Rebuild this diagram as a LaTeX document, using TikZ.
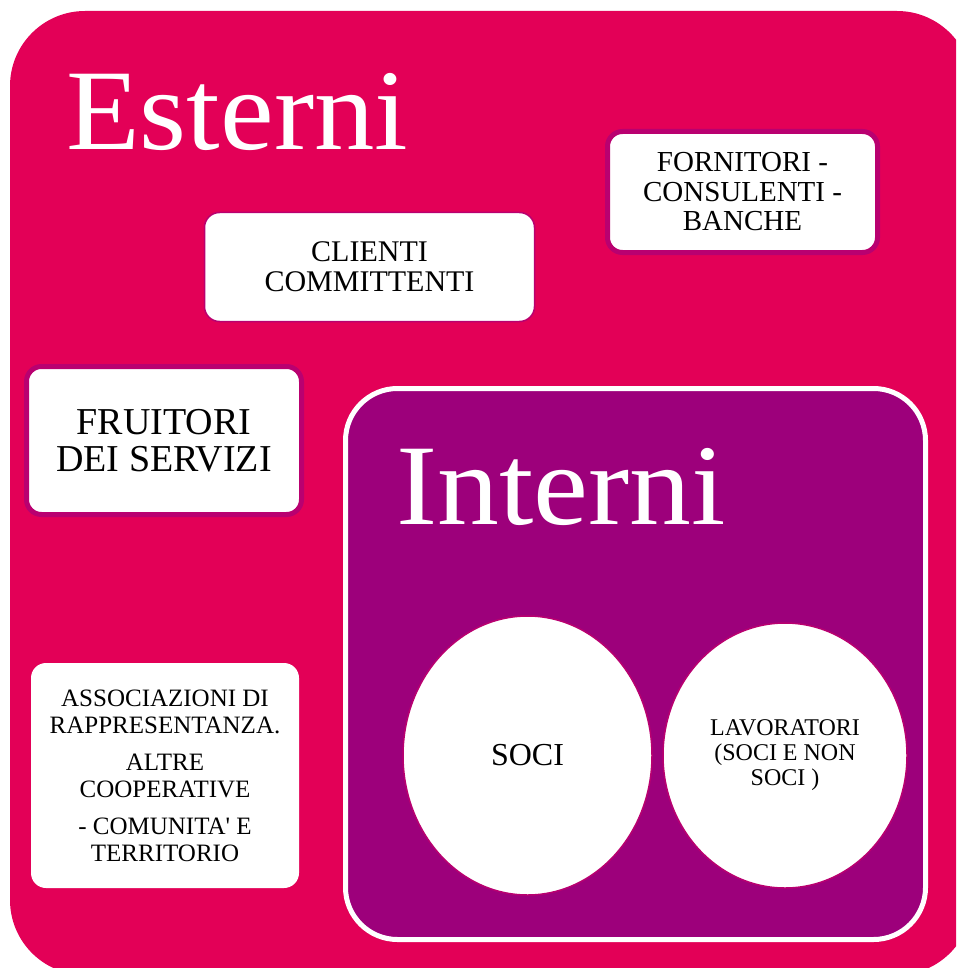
\documentclass[tikz,border=0pt]{standalone}
\usepackage{fontspec}
\setmainfont{Liberation Serif}[Ligatures=TeXOff]
\usetikzlibrary{shapes.geometric}

\definecolor{pinkbg}{RGB}{227,0,87}
\definecolor{purplebg}{RGB}{157,0,123}
\definecolor{edgecol}{RGB}{185,0,112}

\begin{document}
\begin{tikzpicture}[x=1pt,y=-1pt,
                    box node/.style={rectangle,rounded corners=15pt,fill=white,draw=edgecol,
                      inner sep=0pt,align=center,text=black},
                    soft node/.style={ellipse,fill=white,draw=edgecol,line width=1.5pt,
                      inner sep=0pt,align=center,text=black},
                    title node/.style={anchor=base west,inner sep=0pt,text=white,
                      font=\fontsize{115}{115}\selectfont}]

  \useasboundingbox (0,0) rectangle (956,968);
  \clip (0,0) rectangle (956,968);

  % outer area and inner area
  \fill[pinkbg,rounded corners=75pt] (10,11) rectangle (972,975);
  \draw[fill=purplebg,draw=white,line width=5pt,rounded corners=52pt]
    (345.5,388.5) rectangle (925.5,939.5);

  \node[title node,xscale=1.05] (esterni) at (66,150) {Esterni};
  \node[title node,xscale=1.075] (interni) at (396,524) {Interni};

  \node[box node,line width=1.5pt,minimum width=330pt,minimum height=109pt,
        font=\fontsize{30}{30}\selectfont] (clienti) at (369.5,267) {CLIENTI\\COMMITTENTI};
  \node[box node,line width=5pt,minimum width=270pt,minimum height=121pt,
        font=\fontsize{29}{29.5}\selectfont] (fornitori) at (742.5,192)
        {FORNITORI -\\CONSULENTI -\\BANCHE};
  \node[box node,line width=5pt,minimum width=275pt,minimum height=148pt,
        font=\fontsize{38}{37}\selectfont] (fruitori) at (164,440.5) {FRUITORI\\DEI SERVIZI};
  \node[box node,draw=none,minimum width=268pt,minimum height=225pt,
        font=\fontsize{25}{27}\selectfont] (associazioni) at (165,775.5)
        {ASSOCIAZIONI DI\\RAPPRESENTANZA.\\[10pt]ALTRE\\COOPERATIVE\\[10pt]- COMUNITA' E\\TERRITORIO};

  \node[soft node,minimum width=249pt,minimum height=279pt,
        font=\fontsize{32}{32}\selectfont] (soci) at (527.5,755.5) {SOCI};
  \node[soft node,minimum width=244pt,minimum height=265pt,
        font=\fontsize{24}{25}\selectfont] (lavoratori) at (785,755.5)
        {LAVORATORI\\(SOCI E NON\\SOCI )};
\end{tikzpicture}
\end{document}
